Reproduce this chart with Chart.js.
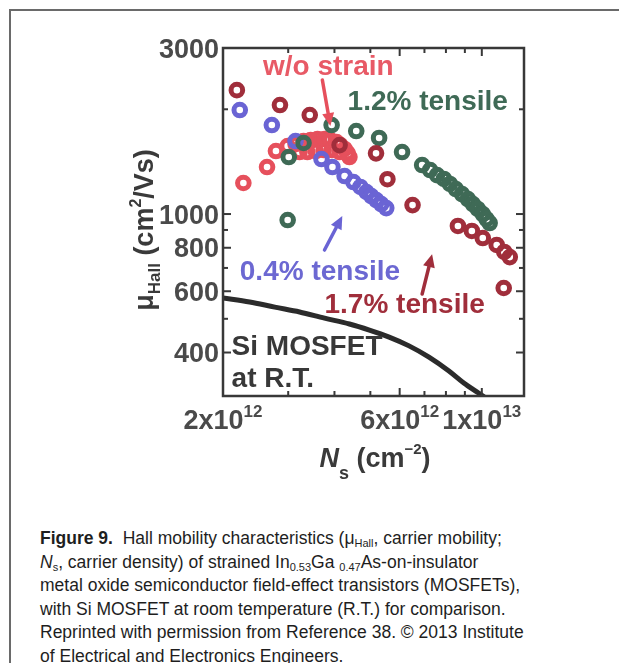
<!DOCTYPE html>
<html>
<head>
<meta charset="utf-8">
<script src="https://cdn.jsdelivr.net/npm/chart.js@4.4.0/dist/chart.umd.min.js"></script>
<style>
  html, body { margin: 0; padding: 0; background: #fff; width: 619px; height: 663px; overflow: hidden; }
  #box { position: absolute; left: 9px; top: 9px; width: 800px; height: 800px;
         border-left: 2px solid #6a6a6a; border-top: 2px solid #6a6a6a; }
  #wrap { position: absolute; left: 0; top: 0; width: 619px; height: 500px; }
  #cap { position: absolute; left: 40px; top: 527px; white-space: nowrap;
         font-family: "Liberation Sans", Arial, sans-serif; font-size: 17.5px; line-height: 23.5px; color: #1e1e1e; }
  #cap sub { font-size: 11px; vertical-align: -3px; line-height: 0; }
</style>
</head>
<body>
<div id="box"></div>
<div id="wrap"><canvas id="c" width="619" height="500"></canvas></div>
<div id="cap"><b>Figure 9.</b>&nbsp; Hall mobility characteristics (μ<sub>Hall</sub>, carrier mobility;<br><i>N</i><sub>s</sub>, carrier density) of strained In<sub>0.53</sub>Ga <sub>0.47</sub>As-on-insulator<br>metal oxide semiconductor field-effect transistors (MOSFETs),<br>with Si MOSFET at room temperature (R.T.) for comparison.<br>Reprinted with permission from Reference 38. © 2013 Institute<br>of Electrical and Electronics Engineers.</div>
<script>
// Sheet carrier density Ns (units of 1e12 cm^-2) and Hall mobility (cm^2/Vs)
const noStrainNs   = [2.27, 2.63, 2.78, 2.99, 3.14, 3.22, 3.30, 3.38, 3.45, 3.56, 3.60, 3.74, 3.76, 3.90, 3.93, 4.05, 4.13, 4.15, 4.26, 4.34, 4.39];
const noStrainMu   = [1228, 1365, 1517, 1568, 1589, 1507, 1621, 1507, 1632, 1517, 1643, 1527, 1643, 1632, 1527, 1610, 1507, 1579, 1538, 1497, 1458];

const t04Ns = [2.22, 2.71, 3.14, 3.69, 3.95, 4.26, 4.50, 4.70, 4.88, 5.03, 5.19, 5.35, 5.52];
const t04Mu = [1990, 1802, 1621, 1439, 1365, 1286, 1236, 1196, 1157, 1126, 1097, 1068, 1040];

const t12Ns = [2.99, 3.01, 3.30, 3.93, 4.58, 5.28, 6.09, 6.90, 7.25, 7.57, 7.90, 8.20, 8.51, 8.84, 9.17, 9.46, 9.75, 10.06, 10.3, 10.5];
const t12Mu = [961, 1458, 1600, 1802, 1732, 1654, 1507, 1383, 1338, 1294, 1261, 1220, 1180, 1141, 1104, 1068, 1034, 1000, 967, 942];

const t17Ns = [2.18, 2.85, 3.43, 4.13, 5.18, 5.56, 6.50, 8.62, 9.40, 10.06, 10.97, 11.5, 11.9, 11.46];
const t17Mu = [2270, 2057, 1925, 1578, 1494, 1259, 1061, 924, 894, 853, 815, 778, 752, 613];

const siNs = [2.00, 2.36, 2.76, 3.22, 3.76, 4.39, 4.97, 5.62, 6.36, 7.20, 8.15, 8.94, 9.80, 10.45];
const siMu = [574, 559, 540, 523, 502, 483, 464, 443, 418, 388, 354, 327, 306, 292];

// Axis ticks
const xTickValues = [2, 3, 4, 5, 6, 7, 8, 9, 10];
const xTickLabels = [{ v: 2, m: '2x10', e: '12' }, { v: 6, m: '6x10', e: '12' }, { v: 10, m: '1x10', e: '13' }];
const yTickValues = [400, 500, 600, 700, 800, 900, 1000, 2000, 3000];
const yTickLabels = [3000, 1000, 800, 600, 400];

const toPts = (xs, ys) => xs.map((v, i) => ({ x: v * 1e12, y: ys[i] }));

const COLORS = { pink: '#e6505c', blue: '#6a64d4', green: '#3f6a56', red: '#a02e3b', si: '#2b2b2b' };

const FONT = '"Liberation Sans", Arial, Helvetica, sans-serif';
const f = (size, style) => (style || 'bold') + ' ' + size + 'px ' + FONT;

// Draw a run of text pieces with their own font and baseline shift
function rich(ctx, segs, x, y, align) {
  let w = 0;
  segs.forEach(s => { ctx.font = s.f; w += ctx.measureText(s.t).width; });
  let cx = align === 'center' ? x - w / 2 : align === 'right' ? x - w : x;
  ctx.textAlign = 'left';
  ctx.textBaseline = 'alphabetic';
  segs.forEach(s => { ctx.font = s.f; ctx.fillText(s.t, cx, y + (s.dy || 0)); cx += ctx.measureText(s.t).width; });
}

function arrow(ctx, x0, y0, x1, y1, color) {
  const ang = Math.atan2(y1 - y0, x1 - x0);
  const head = 13, hw = 6;
  const bx = x1 - head * Math.cos(ang), by = y1 - head * Math.sin(ang);
  ctx.strokeStyle = color; ctx.fillStyle = color; ctx.lineWidth = 3.5; ctx.lineCap = 'round';
  ctx.beginPath(); ctx.moveTo(x0, y0); ctx.lineTo(bx, by); ctx.stroke();
  ctx.beginPath();
  ctx.moveTo(x1, y1);
  ctx.lineTo(bx + hw * Math.sin(ang), by - hw * Math.cos(ang));
  ctx.lineTo(bx - hw * Math.sin(ang), by + hw * Math.cos(ang));
  ctx.closePath(); ctx.fill();
}

// Labels and arrows placed in data coordinates (Ns in 1e12, mobility)
const labels = [
  { t: 'w/o strain',   x: 3.85, y: 2508, c: '#e85a66', align: 'center' },
  { t: '1.2% tensile', x: 4.34, y: 1990, c: COLORS.green, align: 'left' },
  { t: '0.4% tensile', x: 2.22, y: 646,  c: '#6c68d2', align: 'left' },
  { t: '1.7% tensile', x: 3.76, y: 519,  c: COLORS.red, align: 'left' },
  { t: 'Si MOSFET',    x: 2.11, y: 393,  c: '#383838', align: 'left' },
  { t: 'at R.T.',      x: 2.11, y: 318,  c: '#383838', align: 'left' }
];
const arrows = [
  { x0: 3.71, y0: 2427, x1: 3.90, y1: 1790, c: '#e6505c' },
  { x0: 3.76, y0: 788,  x1: 4.20, y1: 987,  c: '#6a64d4' },
  { x0: 6.90, y0: 589,  x1: 7.34, y1: 767,  c: COLORS.red }
];

const decor = {
  id: 'decor',
  afterDatasetsDraw(chart) {
    const { ctx, chartArea: a, scales: { x, y } } = chart;
    const X = v => x.getPixelForValue(v * 1e12);
    const Y = v => y.getPixelForValue(v);
    ctx.save();

    // plot frame
    ctx.strokeStyle = '#383838'; ctx.lineWidth = 2.5;
    ctx.strokeRect(a.left, a.top, a.right - a.left, a.bottom - a.top);

    // inward ticks on all four sides
    ctx.lineWidth = 2;
    const seg = (x0, y0, x1, y1) => { ctx.beginPath(); ctx.moveTo(x0, y0); ctx.lineTo(x1, y1); ctx.stroke(); };
    xTickValues.forEach(v => {
      const px = X(v), L = (v === 6 || v === 10) ? 8 : 5;
      seg(px, a.bottom, px, a.bottom - L); seg(px, a.top, px, a.top + L);
    });
    yTickValues.forEach(v => {
      const py = Y(v), L = yTickLabels.includes(v) ? 8 : 5;
      seg(a.left, py, a.left + L, py); seg(a.right, py, a.right - L, py);
    });

    // tick labels
    ctx.fillStyle = '#4a4a4a';
    yTickLabels.forEach(v => rich(ctx, [{ t: String(v), f: f(27) }], a.left - 4, Y(v) + 9.5, 'right'));
    xTickLabels.forEach(l => rich(ctx, [{ t: l.m, f: f(27) }, { t: l.e, f: f(17), dy: -12 }], X(l.v), a.bottom + 33, 'center'));

    // axis titles
    ctx.fillStyle = '#3a3a3a';
    rich(ctx, [{ t: 'N', f: f(27, 'italic bold') }, { t: 's', f: f(18), dy: 12 }, { t: ' (cm', f: f(27) },
               { t: '\u22122', f: f(15), dy: -13 }, { t: ')', f: f(27) }], 375, a.bottom + 71, 'center');
    ctx.save();
    ctx.translate(153, 230);
    ctx.rotate(-Math.PI / 2);
    rich(ctx, [{ t: '\u03bc', f: f(27) }, { t: 'Hall', f: f(17), dy: 7 }, { t: ' (cm', f: f(27) },
               { t: '2', f: f(16), dy: -12 }, { t: '/Vs)', f: f(27) }], 0, 0, 'center');
    ctx.restore();

    // series labels and arrows
    labels.forEach(l => { ctx.fillStyle = l.c; rich(ctx, [{ t: l.t, f: f(28) }], X(l.x), Y(l.y), l.align); });
    arrows.forEach(r => arrow(ctx, X(r.x0), Y(r.y0), X(r.x1), Y(r.y1), r.c));
    ctx.restore();
  }
};

const ring = (data, color, order) => ({
  data: toPts(...data), order,
  backgroundColor: 'rgba(0,0,0,0)', borderColor: color,
  pointRadius: 5.8, pointBorderWidth: 5, pointHoverRadius: 5.8, showLine: false
});

new Chart(document.getElementById('c'), {
  type: 'scatter',
  data: {
    datasets: [
      ring([t17Ns, t17Mu], COLORS.red, 1),
      ring([t12Ns, t12Mu], COLORS.green, 2),
      ring([t04Ns, t04Mu], COLORS.blue, 3),
      ring([noStrainNs, noStrainMu], COLORS.pink, 4),
      { data: toPts(siNs, siMu), order: 5, showLine: true, borderColor: COLORS.si, borderWidth: 5,
        pointRadius: 0, tension: 0.4, cubicInterpolationMode: 'monotone', fill: false }
    ]
  },
  options: {
    responsive: false, animation: false, events: [],
    layout: { padding: { left: 223, top: 48, right: 95, bottom: 104 } },
    plugins: { legend: { display: false }, tooltip: { enabled: false } },
    scales: {
      x: { type: 'logarithmic', min: 2e12, max: 1.3e13, display: false },
      y: { type: 'logarithmic', min: 300, max: 3000, display: false }
    }
  },
  plugins: [decor]
});
</script>
</body>
</html>
